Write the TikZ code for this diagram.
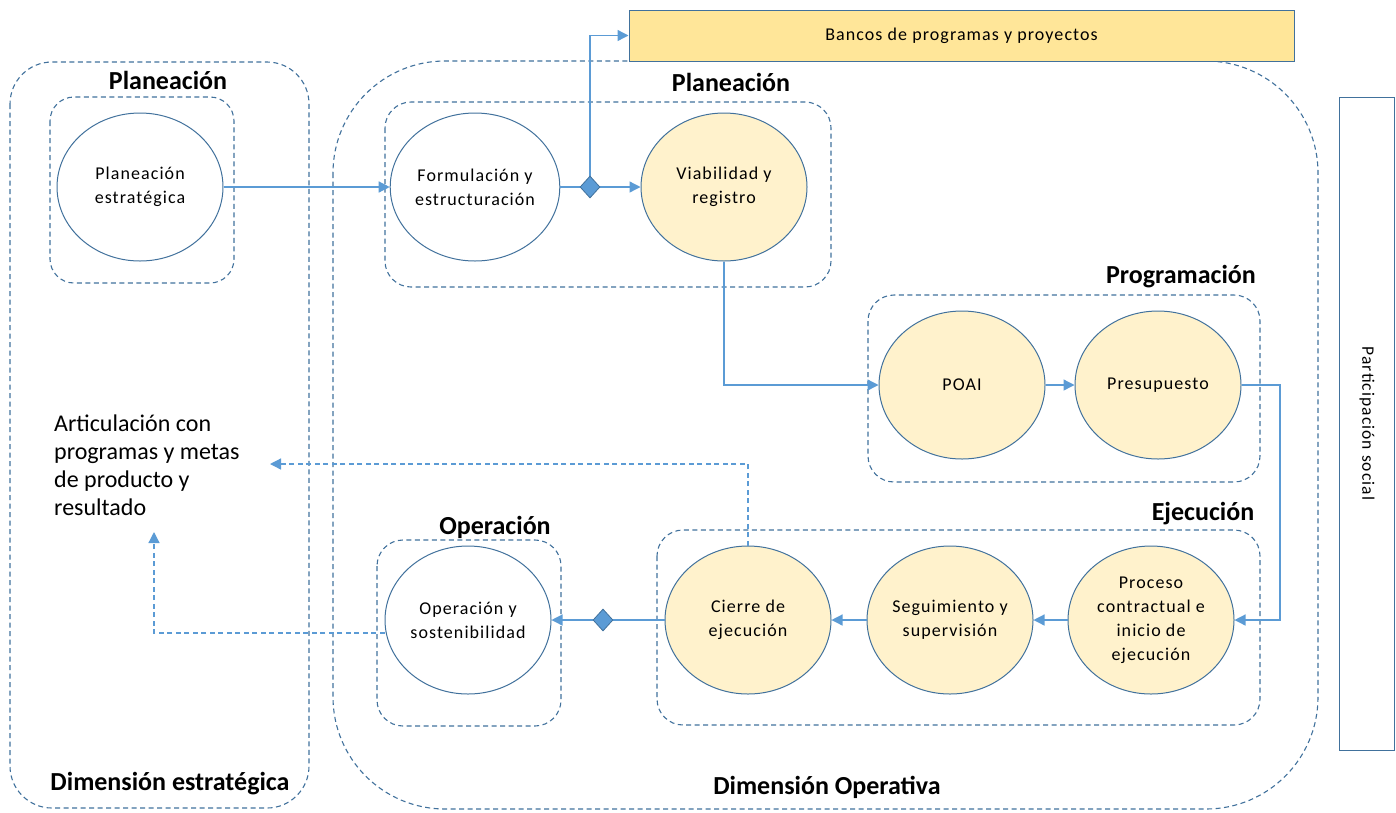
\documentclass[tikz,border=0pt]{standalone}
\usepackage{fontspec}
\setmainfont{Carlito}
\newfontfamily\spc[LetterSpace=6]{Carlito}
\usetikzlibrary{arrows.meta,shapes.geometric}
\definecolor{dk}{HTML}{41719C}
\definecolor{lb}{HTML}{5B9BD5}
\definecolor{cream}{HTML}{FFF2CC}
\definecolor{gold}{HTML}{FFE699}
\begin{document}
\begin{tikzpicture}[x=1pt,y=-1pt,
  grp/.style={draw=dk, line width=1.1pt, dash pattern=on 5pt off 3.5pt},
  proc/.style={ellipse, draw=dk, line width=1pt, minimum width=166pt, minimum height=148pt,
    inner sep=0pt, align=center, font=\spc\fontsize{18}{24}\selectfont},
  hot/.style={proc, fill=cream},
  cold/.style={proc, fill=white},
  hd/.style={font=\bfseries\fontsize{26}{30}\selectfont, inner sep=0pt},
  flow/.style={draw=lb, line width=1.3pt, -{Triangle[length=11pt,width=11pt]}},
  dflow/.style={draw=lb, line width=1.3pt, dash pattern=on 5pt off 3.5pt, -{Triangle[length=11pt,width=11pt]}},
  dia/.style={diamond, draw=dk, fill=lb, line width=0.8pt, minimum width=20pt, minimum height=22pt, inner sep=0pt}
]
\useasboundingbox (0,0) rectangle (1396,812);

% outer dimension boxes
\draw[grp, rounded corners=42pt] (10,62) rectangle (309,808);
\draw[grp, rounded corners=112pt] (333,61) rectangle (1318,809);

% inner group boxes
\draw[grp, rounded corners=24pt] (50,97) rectangle (234,283);
\draw[grp, rounded corners=26pt] (385,102) rectangle (831,287);
\draw[grp, rounded corners=26pt] (868,295) rectangle (1260,482);
\draw[grp, rounded corners=26pt] (657,530) rectangle (1260,725);
\draw[grp, rounded corners=26pt] (377,540) rectangle (561,726);

% headings
\node[hd] (h1) at (168,80) {Planeación};
\node[hd] (h2) at (731,82) {Planeación};
\node[hd] (h3) at (1181,277) {Programación};
\node[hd] (h4) at (1203,514) {Ejecución};
\node[hd] (h5) at (495,527) {Operación};
\node[hd] (h6) at (170,784) {Dimensión estratégica};
\node[hd] (h7) at (827,787) {Dimensión Operativa};

% top bank box
\node[draw=dk, fill=gold, line width=1pt, minimum width=665pt, minimum height=51pt, inner sep=0pt,
  font=\spc\fontsize{18}{24}\selectfont] (banco) at (961.5,35.5) {Bancos de programas y proyectos};

% participation box
\node[draw=dk, line width=1pt, minimum width=55pt, minimum height=653pt, inner sep=0pt] (part) at (1367,423.5) {};
\node[rotate=-90, font=\spc\fontsize{17.5}{24}\selectfont, inner sep=0pt] (partt) at (part.center) {Participación social};

% articulation text
\node[anchor=west, align=left, font=\fontsize{24}{28}\selectfont, inner sep=0pt] (art) at (54,465)
  {Articulación con\\programas y metas\\de producto y\\resultado};

% process ellipses
\node[cold] (pe) at (140,187) {Planeación\\estratégica};
\node[cold] (form) at (475,187) {Formulación y\\estructuración};
\node[hot] (viab) at (724,187) {Viabilidad y\\registro};
\node[hot] (poai) at (962,385) {POAI};
\node[hot] (pres) at (1158,385) {Presupuesto};
\node[hot] (proc) at (1151,620) {Proceso\\contractual e\\inicio de\\ejecución};
\node[hot] (seg) at (950,620) {Seguimiento y\\supervisión};
\node[hot] (cierre) at (748,620) {Cierre de\\ejecución};
\node[cold] (oper) at (468,620) {Operación y\\sostenibilidad};

% coordinates
\coordinate (c1) at (1280,385);
\coordinate (a1) at (270,464);
\coordinate (c2) at (154,633);
\coordinate (a2) at (154,532);

% connectors
\draw[flow] (pe.east) -- (form.west);
\draw[flow] (form.east) -- (viab.west);
\draw[flow] (590,187) |- (banco.west);
\draw[flow] (viab.south) |- (poai.west);
\draw[flow] (poai.east) -- (pres.west);
\draw[flow] (pres.east) -- (c1) |- (proc.east);
\draw[flow] (proc.west) -- (seg.east);
\draw[flow] (seg.west) -- (cierre.east);
\draw[flow] (cierre.west) -- (oper.east);
\draw[dflow] (cierre.north) |- (a1);
\draw[dflow] (oper.west |- c2) -- (c2) -- (a2);

% diamonds
\node[dia] (d1) at (590,187) {};
\node[dia] (d2) at (603,620) {};
\end{tikzpicture}
\end{document}
